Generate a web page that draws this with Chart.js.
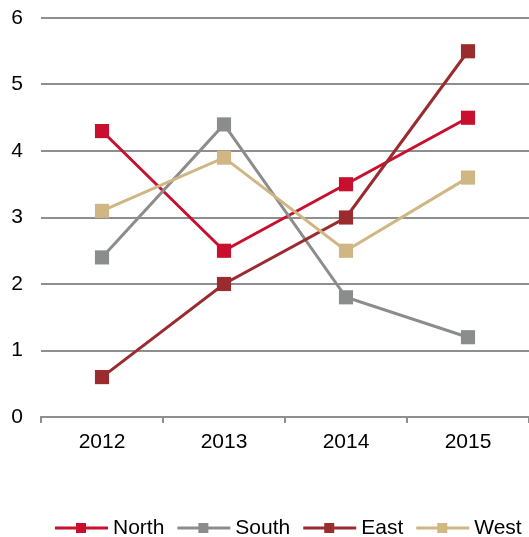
<!DOCTYPE html>
<html>
<head>
<meta charset="utf-8">
<script src="https://cdn.jsdelivr.net/npm/chart.js@4.4.1/dist/chart.umd.min.js"></script>
<style>
html,body{margin:0;padding:0;background:#fff;}
#wrap{width:529px;height:537px;}
</style>
</head>
<body>
<div id="wrap"><canvas id="c" width="529" height="537"></canvas></div>
<script>
const categories = ['2012', '2013', '2014', '2015'];
const seriesNames = ['North', 'South', 'East', 'West'];
const north = [4.3, 2.5, 3.5, 4.5];
const south = [2.4, 4.4, 1.8, 1.2];
const east  = [0.6, 2.0, 3.0, 5.5];
const west  = [3.1, 3.9, 2.5, 3.6];
const yTicks = [0, 1, 2, 3, 4, 5, 6];

const colors = ['#C8102E', '#8B8D8D', '#9A2B2F', '#CFB683'];
const values = [north, south, east, west];

const gridColor = '#8E8E8E';
const fontFamily = '"Liberation Sans", Arial, sans-serif';
const font = { family: fontFamily, size: 21 };

// Custom legend: line segment with square marker, then label
const lineLegend = {
  id: 'lineLegend',
  afterDraw(chart) {
    const ctx = chart.ctx;
    const segW = 53, gapText = 5, gapItem = 13, y = 528;
    ctx.save();
    ctx.font = font.size + 'px ' + fontFamily;
    let x = 55;
    chart.data.datasets.forEach(ds => {
      const tw = ctx.measureText(ds.label).width;
      ctx.strokeStyle = ds.borderColor;
      ctx.lineWidth = 3;
      ctx.beginPath();
      ctx.moveTo(x, y);
      ctx.lineTo(x + segW, y);
      ctx.stroke();
      ctx.fillStyle = ds.borderColor;
      ctx.fillRect(x + 21, y - 5, 10, 10);
      ctx.fillStyle = '#000';
      ctx.textBaseline = 'middle';
      ctx.textAlign = 'left';
      ctx.fillText(ds.label, x + segW + gapText, y);
      x += segW + gapText + tw + gapItem;
    });
    ctx.restore();
  }
};

new Chart(document.getElementById('c'), {
  type: 'line',
  data: {
    labels: categories,
    datasets: seriesNames.map((name, i) => ({
      label: name,
      data: values[i],
      borderColor: colors[i],
      backgroundColor: colors[i],
      borderWidth: 3,
      pointStyle: 'rect',
      pointRadius: 10,
      pointHoverRadius: 10,
      pointBorderWidth: 0,
      tension: 0,
      clip: false,
      order: seriesNames.length - i
    }))
  },
  options: {
    responsive: false,
    animation: false,
    devicePixelRatio: 1,
    layout: { autoPadding: false, padding: { top: 18, left: 0, right: 0, bottom: 0 } },
    plugins: {
      tooltip: { enabled: false },
      legend: { display: false }
    },
    scales: {
      x: {
        type: 'category',
        offset: true,
        grid: { offset: true, drawOnChartArea: false, drawTicks: true, tickLength: 6, color: gridColor, lineWidth: 2 },
        border: { display: true, color: gridColor, width: 2 },
        ticks: { color: '#000', font: font, padding: 7, maxRotation: 0 },
        afterFit: s => { s.height = 120; }
      },
      y: {
        min: 0, max: 6,
        afterBuildTicks: s => { s.ticks = yTicks.map(v => ({ value: v })); },
        grid: { drawTicks: false, color: gridColor, lineWidth: 2 },
        border: { display: false },
        ticks: { color: '#000', font: font, padding: 18 },
        afterFit: s => { s.width = 41; s.paddingTop = 0; s.paddingBottom = 0; }
      }
    }
  },
  plugins: [lineLegend]
});
</script>
</body>
</html>
